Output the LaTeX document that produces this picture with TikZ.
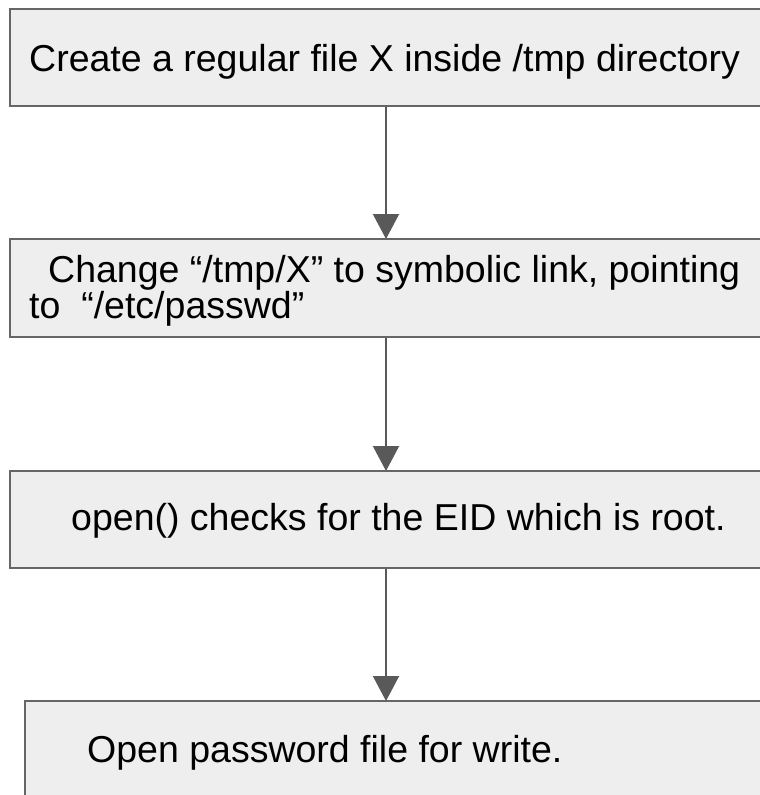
\documentclass[tikz,border=0pt]{standalone}
\usepackage{fontspec}
\setmainfont{Liberation Sans}
\usetikzlibrary{arrows.meta}
\definecolor{boxfill}{HTML}{EEEEEE}
\definecolor{boxline}{HTML}{666666}
\definecolor{arrline}{HTML}{595959}
\tikzset{
  stepbox/.style={draw=boxline, fill=boxfill, line width=2pt, rectangle, anchor=north west, inner sep=0pt},
  steptext/.style={anchor=west, inner sep=0pt, font=\fontsize{37.5}{33}\selectfont, text=black},
  arr/.style={draw=arrline, line width=2pt, -{Triangle[width=26pt,length=25pt]}, shorten >=-1pt}
}
\begin{document}
\begin{tikzpicture}[x=1pt,y=-1pt]
\useasboundingbox (0,0) rectangle (760,795);
\clip (0,0) rectangle (760,795);
\node[stepbox, minimum width=754pt, minimum height=97pt] (b1) at (9,8) {};
\node[stepbox, minimum width=754pt, minimum height=98pt] (b2) at (9,238) {};
\node[stepbox, minimum width=754pt, minimum height=97pt] (b3) at (9,470) {};
\node[stepbox, minimum width=740pt, minimum height=110pt] (b4) at (24,700) {};
\node[steptext] (t1) at (29,62) {Create a regular file X inside /tmp directory};
\node[steptext, anchor=north west, align=left] (t2) at (29,255)
  {\hspace*{19pt}Change “/tmp/X” to symbolic link, pointing\\to\ \ “/etc/passwd”};
\node[steptext] (t3) at (71,521) {open() checks for the EID which is root.};
\node[steptext] (t4) at (87,753) {Open password file for write.};
\coordinate (ax) at (386,0);
\draw[arr] (b1.south -| ax) -- (b2.north -| ax);
\draw[arr] (b2.south -| ax) -- (b3.north -| ax);
\draw[arr] (b3.south -| ax) -- (b4.north -| ax);
\end{tikzpicture}
\end{document}
